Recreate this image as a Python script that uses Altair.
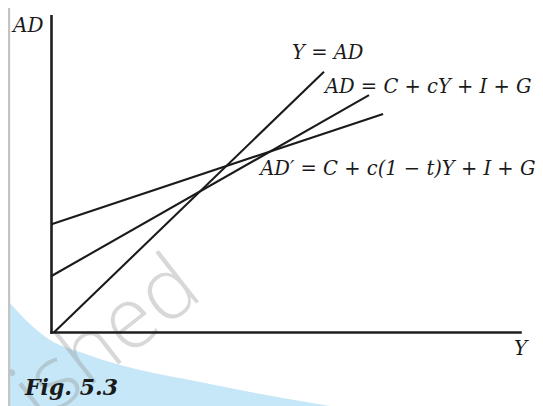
import altair as alt
import pandas as pd

# ---- data (diagram units: origin at the corner of the axes) ----
line_names = ["Y = AD", "AD = C + cY + I + G", "AD′ = C + c(1 − t)Y + I + G"]
x_start = [0.5, 0.0, 0.0]
y_start = [0.0, 12.05, 23.1]
x_end = [58.1, 67.7, 70.7]
y_end = [55.6, 50.6, 46.6]
label_x = [51.3, 58.3, 44.5]
label_y = [58.3, 51.1, 33.6]

axis_x_len = 100.0
axis_y_len = 67.4
axis_titles = ["AD", "Y"]
axis_title_x = [-8.2, 98.6]
axis_title_y = [64.1, -4.8]

fig_label = "Fig. 5.3"
fig_x = [-5.65]
fig_y = [-13.3]

# decorative blue band (boundary of the shaded corner)
band_x = [-8.85, -4.58, -0.32, 6.08, 10.34, 18.87, 31.66, 42.32, 52.99, 59.38]
band_y = [6.29, 1.81, -1.60, -4.16, -5.65, -8.00, -10.55, -12.69, -14.61, -15.67]

watermark = "ished"
wm_x = [32.7]
wm_y = [7.6]

# ---- scales ----
W, H = 527, 398
px_per_unit = 4.69
x0_px, y0_px = 43.5, 324.5  # origin inside the view
xdom = [-x0_px / px_per_unit, (W - x0_px) / px_per_unit]
ydom = [-(H - y0_px) / px_per_unit, y0_px / px_per_unit]
xs = alt.Scale(domain=xdom, nice=False, zero=False)
ys = alt.Scale(domain=ydom, nice=False, zero=False)

serif = "DejaVu Serif"

lines_df = pd.DataFrame({"name": line_names, "x": x_start, "y": y_start,
                         "x2": x_end, "y2": y_end, "lx": label_x, "ly": label_y})
band_df = pd.DataFrame({"x": band_x, "y": band_y, "y2": [ydom[0] - 5] * len(band_x)})
titles_df = pd.DataFrame({"t": axis_titles, "x": axis_title_x, "y": axis_title_y})
fig_df = pd.DataFrame({"t": [fig_label], "x": fig_x, "y": fig_y})
wm_df = pd.DataFrame({"t": [watermark], "x": wm_x, "y": wm_y})
axes_df = pd.DataFrame({"x": [0.0, 0.0], "x2": [axis_x_len, 0.0],
                        "y": [0.0, 0.0], "y2": [0.0, axis_y_len]})
border_df = pd.DataFrame({"x": [xdom[0] + 0.2], "y": [ydom[0]], "y2": [ydom[1]]})

band = alt.Chart(band_df).mark_area(color="#c6e7f7", interpolate="monotone").encode(
    x=alt.X("x:Q", scale=xs, axis=None),
    y=alt.Y("y:Q", scale=ys, axis=None),
    y2="y2:Q",
)

border = alt.Chart(border_df).mark_rule(color="#c4c4c4", strokeWidth=2.5).encode(
    x=alt.X("x:Q", scale=xs, axis=None),
    y=alt.Y("y:Q", scale=ys, axis=None),
    y2="y2:Q",
)

wm = alt.Chart(wm_df).mark_text(
    font="Open Sans", fontWeight=300, fontSize=86, color="#8a8a8a", opacity=0.33,
    align="right", baseline="alphabetic", angle=322,
).encode(
    x=alt.X("x:Q", scale=xs, axis=None),
    y=alt.Y("y:Q", scale=ys, axis=None),
    text="t:N",
)

axes = alt.Chart(axes_df).mark_rule(color="#1e1e1e", strokeWidth=2.6, strokeCap="square").encode(
    x=alt.X("x:Q", scale=xs, axis=None),
    x2="x2:Q",
    y=alt.Y("y:Q", scale=ys, axis=None),
    y2="y2:Q",
)

lines = alt.Chart(lines_df).mark_rule(color="#1a1a1a", strokeWidth=2.1).encode(
    x=alt.X("x:Q", scale=xs, axis=None),
    x2="x2:Q",
    y=alt.Y("y:Q", scale=ys, axis=None),
    y2="y2:Q",
)

labels = alt.Chart(lines_df).mark_text(
    font=serif, fontStyle="italic", fontSize=19.5, color="#1a1a1a",
    align="left", baseline="alphabetic",
).encode(
    x=alt.X("lx:Q", scale=xs, axis=None),
    y=alt.Y("ly:Q", scale=ys, axis=None),
    text="name:N",
)

titles = alt.Chart(titles_df).mark_text(
    font=serif, fontStyle="italic", fontSize=20, color="#1a1a1a",
    align="left", baseline="alphabetic",
).encode(
    x=alt.X("x:Q", scale=xs, axis=None),
    y=alt.Y("y:Q", scale=ys, axis=None),
    text="t:N",
)

fig = alt.Chart(fig_df).mark_text(
    font=serif, fontStyle="italic", fontWeight="bold", fontSize=22, color="#1a1a1a",
    align="left", baseline="alphabetic",
).encode(
    x=alt.X("x:Q", scale=xs, axis=None),
    y=alt.Y("y:Q", scale=ys, axis=None),
    text="t:N",
)

chart = alt.layer(band, wm, border, axes, lines, labels, titles, fig).properties(
    width=W, height=H, autosize=alt.AutoSizeParams(type="none"), padding=0,
    background="white",
).configure_view(strokeWidth=0)

chart.save("out.html", embed_options={"renderer": "svg", "actions": False})
